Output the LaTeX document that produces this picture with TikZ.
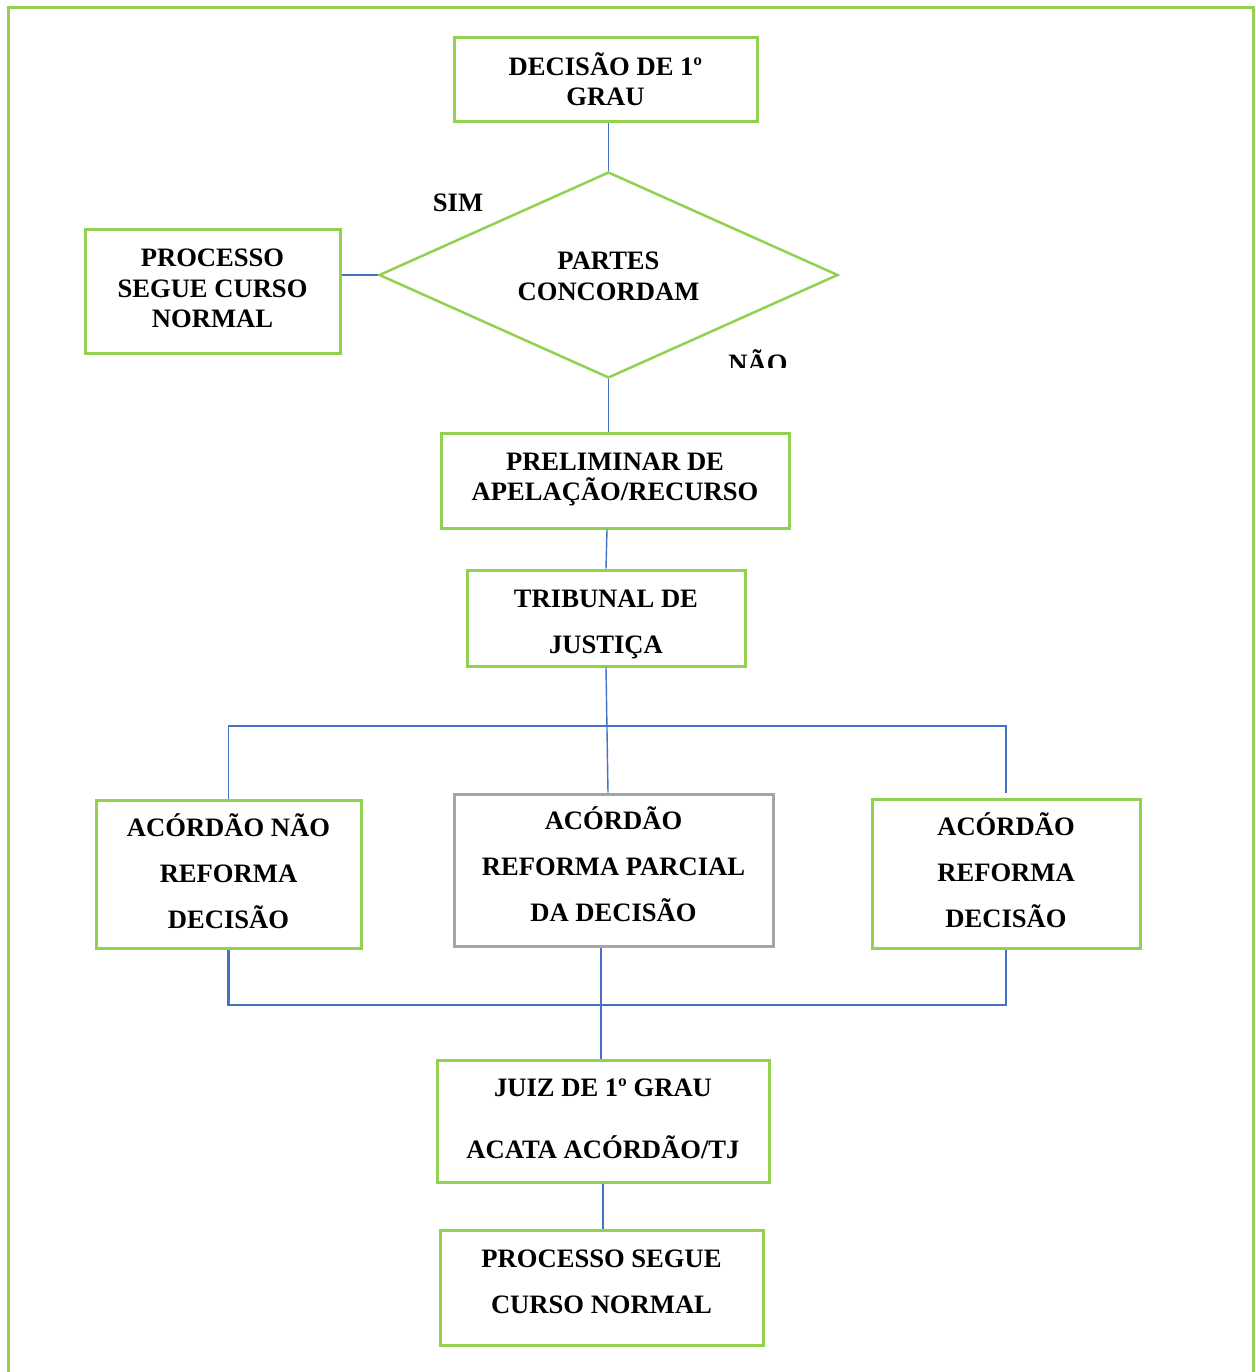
\documentclass[tikz,border=0pt]{standalone}
\usepackage{fontspec}
\setmainfont{Liberation Serif}
\usetikzlibrary{shapes.geometric}
\definecolor{frameGreen}{HTML}{92D050}
\definecolor{linkBlue}{HTML}{4472C4}
\definecolor{boxGray}{HTML}{A5A5A5}
\newcommand\fsz[1]{\fontsize{26.6}{#1}\selectfont}
\tikzset{
  box/.style={draw=frameGreen, line width=3pt, inner sep=0pt},
  graybox/.style={box, draw=boxGray},
  decision/.style={diamond, draw=frameGreen, line width=2.5pt, inner sep=0pt},
  boxtext/.style={inner sep=0pt, align=center, font=\bfseries\fsz{30}},
  tag/.style={inner sep=0pt, font=\bfseries\fsz{30}},
  link/.style={draw=linkBlue, line width=1.4pt},
  linkbold/.style={draw=linkBlue, line width=2.4pt},
}
\begin{document}
\begin{tikzpicture}[x=1pt, y=-1pt]
\useasboundingbox (0,0) rectangle (1255,1372);
% outer frame, open at the bottom edge of the page
\draw[frameGreen, line width=3pt] (8.5,1372) -- (8.5,7.5) -- (1253.5,7.5) -- (1253.5,1372);

% boxes, each with its centred text
\node[box, minimum width=303pt, minimum height=84pt,
  label={[boxtext, yshift=1pt]center:DECISÃO DE 1º\\GRAU}] (dec) at (605.5,80) {};
\node[decision, minimum width=459pt, minimum height=206pt,
  label={[boxtext, font=\bfseries\fsz{31}, yshift=-1.5pt]center:PARTES\\CONCORDAM}] (partes) at (608.5,275) {};
\node[box, minimum width=255pt, minimum height=123pt,
  label={[boxtext, font=\bfseries\fsz{30.5}, yshift=3pt]center:PROCESSO\\SEGUE CURSO\\NORMAL}] (seg) at (212.5,291.5) {};
\node[box, minimum width=348pt, minimum height=95pt,
  label={[boxtext, yshift=1pt]center:PRELIMINAR DE\\APELAÇÃO/RECURSO}] (prel) at (615,480.5) {};
\node[box, minimum width=278pt, minimum height=96pt,
  label={[boxtext, font=\bfseries\fsz{46}, yshift=-6pt]center:TRIBUNAL DE\\JUSTIÇA}] (trib) at (606,618) {};
\node[box, minimum width=265pt, minimum height=148pt,
  label={[boxtext, font=\bfseries\fsz{46}, yshift=3pt]center:ACÓRDÃO NÃO\\REFORMA\\DECISÃO}] (nrefo) at (228.5,874) {};
\node[graybox, minimum width=319pt, minimum height=152pt,
  label={[boxtext, font=\bfseries\fsz{46}, yshift=6pt]center:ACÓRDÃO\\REFORMA PARCIAL\\DA DECISÃO}] (parc) at (613.5,870) {};
\node[box, minimum width=268pt, minimum height=149pt,
  label={[boxtext, font=\bfseries\fsz{46}, yshift=3pt]center:ACÓRDÃO\\REFORMA\\DECISÃO}] (refo) at (1006,873.5) {};
\node[box, minimum width=332pt, minimum height=122pt,
  label={[boxtext, font=\bfseries\fsz{62}, yshift=2pt]center:JUIZ DE 1º GRAU\\ACATA ACÓRDÃO/TJ}] (juiz) at (603,1121) {};
\node[box, minimum width=323pt, minimum height=115pt,
  label={[boxtext, font=\bfseries\fsz{46}, yshift=5.5pt]center:PROCESSO SEGUE\\CURSO NORMAL}] (fim) at (601.5,1287.5) {};

% branch labels
\node[tag] (sim) at (458,203) {SIM};
\begin{scope}
  \clip (700,335) rectangle (820,367);
  \node[tag] (nao) at (758,361) {NÃO};
\end{scope}

% connectors
\draw[link] (partes.north |- dec.south) -- (partes.north);
\draw[link] (seg.east |- partes.west) -- (partes.west);
\draw[link] (partes.south) -- (partes.south |- prel.north);
\draw[link] (607,0 |- prel.south) -- (606,0 |- trib.north);
\draw[link] (trib.south) -- (608,0 |- parc.north);
\coordinate (fork) at (606,726);
\draw[link] (nrefo.north) -- (nrefo.north |- fork) -- (refo.north |- fork) -- (1006,793);
\coordinate (merge) at (601,1005);
\draw[linkbold] (nrefo.south) -- (nrefo.south |- merge) -- (refo.south |- merge) -- (refo.south);
\draw[linkbold] (merge |- parc.south) -- (merge |- juiz.north);
\draw[linkbold] (juiz.south) -- (juiz.south |- fim.north);
\end{tikzpicture}
\end{document}
